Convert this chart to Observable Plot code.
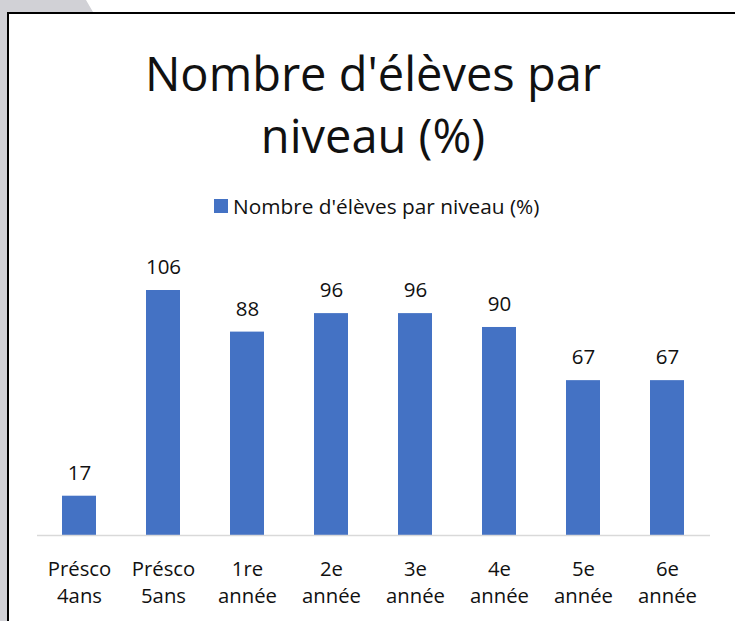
<!DOCTYPE html>
<html><head><meta charset="utf-8">
<script src="https://cdn.jsdelivr.net/npm/d3@7"></script>
<script src="https://cdn.jsdelivr.net/npm/@observablehq/plot@0.6"></script>
<style>
html,body{margin:0;padding:0;background:#fff;}
#page{position:relative;width:735px;height:621px;overflow:hidden;font-family:"Open Sans",sans-serif;color:#111;}
#gray{position:absolute;left:0;top:0;width:735px;height:621px;background:#d1d1d6;clip-path:polygon(0 0,86px 0,93px 12px,9px 12px,9px 621px,0 621px);}
#frame{position:absolute;left:7px;top:12px;width:740px;height:620px;border:2.5px solid #000;box-sizing:border-box;background:#fff;}
#title{position:absolute;left:0;top:42px;width:746px;text-align:center;font-size:47px;line-height:62px;color:#111;}
#legend{position:absolute;left:214px;top:192px;font-size:20.8px;color:#111;display:flex;align-items:center;white-space:nowrap;}
#legend span.sw{display:inline-block;width:14px;height:14px;background:#4472C4;margin-right:5px;}
#chart{position:absolute;left:0;top:230px;}
</style></head>
<body>
<div id="page">
  <div id="gray"></div>
  <div id="frame"></div>
  <div id="title">Nombre d'élèves par<br>niveau (%)</div>
  <div id="legend"><span class="sw"></span>Nombre d'élèves par niveau (%)</div>
  <div id="chart"></div>
</div>
<script>
const categories = ["Présco\n4ans","Présco\n5ans","1re\nannée","2e\nannée","3e\nannée","4e\nannée","5e\nannée","6e\nannée"];
const values = [17,106,88,96,96,90,67,67];
const seriesName = "Nombre d'élèves par niveau (%)";

const data = categories.map((c,i)=>({cat:c, value:values[i]}));

const chart = Plot.plot({
  width: 735,
  height: 391,
  marginTop: 60,
  marginBottom: 86,
  marginLeft: 37,
  marginRight: 25,
  style: {fontFamily: "'Open Sans', sans-serif", background: "transparent"},
  x: {domain: categories, paddingInner: 0.595, paddingOuter: 0.2975, axis: null},
  y: {domain: [0, 106], axis: null},
  marks: [
    Plot.barY(data, {x: "cat", y: "value", fill: "#4472C4"}),
    Plot.ruleY([0], {stroke: "#d9d9d9", strokeWidth: 1.5}),
    Plot.text(data, {x: "cat", y: "value", text: d => String(d.value), dy: -23, lineAnchor: "middle", fontSize: 20.5, fill: "#111"}),
    Plot.text(data, {x: "cat", y: 0, text: "cat", dy: 45, lineAnchor: "middle", lineHeight: 1.35, fontSize: 20.3, fill: "#111"})
  ]
});
document.getElementById("chart").appendChild(chart);
</script>
</body></html>
